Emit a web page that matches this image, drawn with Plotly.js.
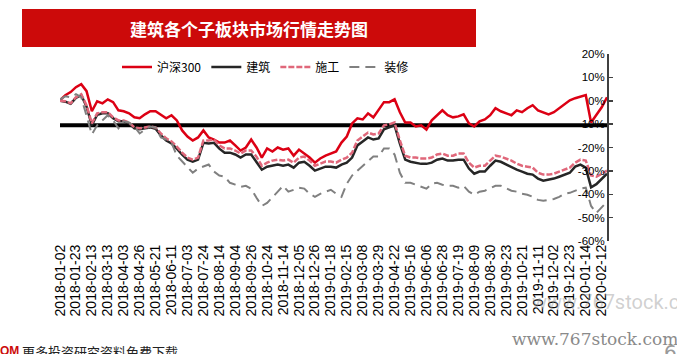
<!DOCTYPE html>
<html>
<head>
<meta charset="utf-8">
<script src="https://cdn.plot.ly/plotly-3.0.1.min.js"></script>
<style>
html,body{margin:0;padding:0;background:#fff;}
#chart{width:677px;height:354px;}
</style>
</head>
<body>
<div id="chart"></div>
<script>
// ---- data (cumulative % change since 2018-01-02, sampled every 5 trading days) ----
const STEP_DAYS = 5;
const tickLabels = ["2018-01-02","2018-01-23","2018-02-13","2018-03-13","2018-04-03","2018-04-26","2018-05-21","2018-06-11","2018-07-03","2018-07-24","2018-08-14","2018-09-04","2018-09-26","2018-10-24","2018-11-14","2018-12-05","2018-12-26","2019-01-18","2019-02-15","2019-03-08","2019-03-29","2019-04-22","2019-05-16","2019-06-06","2019-06-28","2019-07-19","2019-08-09","2019-08-30","2019-09-23","2019-10-21","2019-11-11","2019-12-02","2019-12-23","2020-01-14","2020-02-12"];
const TICK_EVERY = 15;

const hs300 = [0.2,2.4,3.7,5.8,7.1,4.1,-4.5,-0.2,-1.1,0.6,-0.6,-4.1,-4.5,-5.4,-7.1,-7.5,-5.8,-4.5,-4.5,-6.2,
-7.5,-6.2,-8.4,-12.7,-15.3,-17,-15.7,-12.7,-15.7,-16.6,-17.9,-17.9,-17,-19.1,-21.3,-20,-16.6,-20,-24.3,-20.4,
-21.7,-20,-20.9,-20.4,-23.5,-20.9,-22.6,-24.3,-26.5,-24.7,-23.5,-22.6,-21.7,-17.9,-15.3,-9.7,-7.5,-8,-5.4,-7.1,
-4.1,-0.6,-0.6,0.6,-4.9,-9.3,-9.3,-11,-10.5,-12.3,-8.4,-6.2,-4.1,-6.2,-7.1,-6.7,-5.8,-9.7,-11,-8.8,
-8,-6.2,-3.2,-4.5,-5.4,-6.2,-4.1,-4.9,-3.2,-1.9,-4.1,-4.9,-5.8,-4.9,-3.2,-1.5,0.2,1.1,1.9,2.4,
-9.3,-6.2,-2.8,1.5];

const jianzhu = [0,-0.4,-1.3,1.2,2.4,-2.5,-10.5,-6,-5.4,-5.4,-7.5,-8.8,-8.8,-9.7,-11.8,-12.2,-11.8,-11.4,-12,-14.8,
-17,-18.3,-20.5,-23.1,-25.2,-26.1,-25.2,-18,-18.3,-18,-20.5,-22.2,-22.2,-23,-24.3,-23,-23,-26,-29.5,-28.2,
-27.8,-27.3,-27.8,-27.3,-28.6,-26.5,-26.1,-27.8,-29.9,-29,-28.2,-28.2,-28.6,-27.3,-26.5,-24.3,-19.1,-17.4,-15.7,-16.6,
-16.1,-12.2,-11.4,-10.5,-18.3,-25.2,-26.1,-26.5,-27,-27,-26.5,-25.2,-24.7,-25.6,-25.6,-25.2,-25.2,-29,-31.2,-30.3,
-30.3,-27.8,-25.6,-26.1,-27.3,-28.2,-29.5,-30.3,-31.2,-31.6,-33.3,-34.2,-33.8,-33.3,-32.5,-31.6,-30.8,-28.2,-27.3,-28.6,
-37,-35.7,-33.3,-31.2];

const shigong = [0,-0.2,-1.1,1.5,2.8,-2,-9.7,-5.4,-4.9,-4.9,-7.1,-8.4,-8.4,-9.3,-11.4,-11.8,-11.4,-11,-11.4,-14,
-16.1,-17.4,-19.6,-22.2,-24.3,-25.2,-24.3,-17,-17,-16.6,-19.1,-20.4,-20.4,-21.3,-22.6,-21.3,-21.3,-23.9,-27.8,-26.5,
-25.6,-25.2,-25.6,-25.2,-26.5,-24.3,-23.9,-25.6,-27.8,-26.9,-26,-26,-26.5,-25.2,-24.3,-22.2,-17,-15.3,-13.6,-14.4,
-14,-10.5,-10.1,-9.3,-17,-23.5,-24.3,-24.3,-24.7,-24.7,-24.3,-23,-22.6,-23.5,-23.5,-22.6,-22.6,-26.5,-28.6,-27.8,
-27.8,-25.6,-23.5,-23.9,-24.7,-25.6,-26.9,-27.8,-28.2,-28.6,-30.8,-31.6,-31.6,-31.2,-30.3,-29.5,-28.6,-26.5,-25.2,-25.6,
-32,-32.5,-31.2,-29.9];

const zhuangxiu = [0.6,1.9,1.5,2.8,1.5,-6.7,-14.4,-10.5,-8.4,-6.2,-8.4,-11.8,-8.8,-9.3,-11,-14,-12.3,-11,-11.4,-15.7,
-16.6,-17.9,-23.5,-26,-28.6,-30.8,-29,-28.2,-27.3,-30.3,-32,-32.5,-35.1,-35.9,-36.8,-36.4,-37.6,-41.5,-45,-43.7,
-41.5,-38.9,-36.4,-38.9,-38.1,-37.2,-37.6,-39.8,-41.1,-39.8,-38.9,-38.1,-39.8,-41.1,-35.5,-32,-29.9,-27.8,-25.6,-23.9,
-23.9,-20.4,-20.4,-23,-30.8,-35.1,-35.1,-35.9,-36.8,-37.6,-35.5,-35.1,-35.9,-36.4,-36.4,-37.2,-36.4,-38.9,-40.2,-38.9,
-38.5,-37.6,-36.4,-36.4,-37.6,-38.5,-38.9,-39.8,-40.2,-41.1,-42.4,-42.8,-42.4,-42,-41.1,-39.8,-39.4,-38.5,-37.6,-37.2,
-45,-48,-45.4,-43.2];

const seriesNames = ["沪深300","建筑","施工","装修"];
const axisCross = -10.5;  // horizontal axis crossing value
const yTicks = [20,10,0,-10,-20,-30,-40,-50,-60];

// ---- layout helpers (pixel -> paper) ----
const W = 677, H = 354, ML = 60, MR = 70, MT = 54, MB = 113;
const PW = W - ML - MR, PH = H - MT - MB;
const px = x => (x - ML) / PW;
const py = y => (H - MB - y) / PH;

const xs = hs300.map((_, i) => i * STEP_DAYS);
const tickVals = tickLabels.map((_, i) => i * TICK_EVERY);

const traces = [
  {x: xs, y: hs300, name: seriesNames[0], type: "scatter", mode: "lines",
   line: {color: "#DC0014", width: 2.5}},
  {x: xs, y: jianzhu, name: seriesNames[1], type: "scatter", mode: "lines",
   line: {color: "#262626", width: 2.5}},
  {x: xs, y: shigong, name: seriesNames[2], type: "scatter", mode: "lines",
   line: {color: "#E0677A", width: 2.5, dash: "6px,2px"}},
  {x: xs, y: zhuangxiu, name: seriesNames[3], type: "scatter", mode: "lines",
   line: {color: "#808080", width: 2, dash: "10px,6px"}}
];

const layout = {
  width: W, height: H,
  margin: {l: ML, r: MR, t: MT, b: MB, pad: 0, autoexpand: false},
  paper_bgcolor: "#fff", plot_bgcolor: "#fff",
  font: {family: "Arial, 'Liberation Sans', sans-serif", color: "#000"},
  showlegend: true,
  legend: {orientation: "h", x: px(117), xanchor: "left", y: py(67), yanchor: "middle",
           font: {family: "'Noto Sans CJK SC', sans-serif", size: 12, color: "#000"},
           bgcolor: "rgba(0,0,0,0)", itemwidth: 30, tracegroupgap: 0},
  xaxis: {range: [0, (hs300.length - 1) * STEP_DAYS], tickmode: "array", tickvals: tickVals, ticktext: tickLabels,
          tickangle: -90, showgrid: false, zeroline: false, showline: false, ticks: "",
          automargin: false,
          tickfont: {family: "Arial, 'Liberation Sans', sans-serif", size: 14, color: "#000"}, fixedrange: true},
  yaxis: {range: [-60, 20], side: "left", anchor: "free", position: 1, automargin: false,
          tickmode: "array", tickvals: yTicks, ticktext: yTicks.map(v => v + "%"),
          showgrid: false, zeroline: false, showline: true, linecolor: "#404040", linewidth: 1.5,
          ticks: "inside", ticklen: 4, tickcolor: "#404040", tickwidth: 1.5,
          tickfont: {family: "Arial, 'Liberation Sans', sans-serif", size: 11.5, color: "#000"}, fixedrange: true},
  shapes: [
    {type: "line", xref: "paper", x0: 0, x1: 1, yref: "y", y0: axisCross, y1: axisCross,
     line: {color: "#000", width: 4}, layer: "below"},
    {type: "rect", xref: "paper", yref: "paper", x0: px(22), x1: px(476), y0: py(47), y1: py(9),
     fillcolor: "#CC0A0A", line: {width: 0}, layer: "below"}
  ],
  annotations: [
    {text: "<b>建筑各个子板块市场行情走势图</b>", xref: "paper", yref: "paper", x: px(249), y: py(28),
     xanchor: "center", yanchor: "middle", showarrow: false,
     font: {family: "'Noto Sans CJK SC', sans-serif", size: 17, color: "#fff"}},
    {text: "www.767stock.com", xref: "paper", yref: "paper", x: px(530), y: py(302),
     xanchor: "left", yanchor: "middle", showarrow: false,
     font: {family: "Roboto, 'DejaVu Sans', sans-serif", size: 20, color: "rgba(150,150,150,0.45)"}},
    {text: "www.767stock.com", xref: "paper", yref: "paper", x: px(510), y: py(339),
     xanchor: "left", yanchor: "middle", showarrow: false,
     font: {family: "'DejaVu Serif', serif", size: 17, color: "#8a8a8a"}},
    {text: "6", xref: "paper", yref: "paper", x: px(662), y: py(352),
     xanchor: "left", yanchor: "middle", showarrow: false,
     font: {family: "'DejaVu Sans', sans-serif", size: 20, color: "#999"}},
    {text: "<b>OM</b>", xref: "paper", yref: "paper", x: px(-2), y: py(351),
     xanchor: "left", yanchor: "middle", showarrow: false,
     font: {family: "Arial, sans-serif", size: 12, color: "#CC0A0A"}},
    {text: "更多投资研究资料免费下载", xref: "paper", yref: "paper", x: px(20), y: py(351),
     xanchor: "left", yanchor: "middle", showarrow: false,
     font: {family: "'Noto Sans CJK SC', sans-serif", size: 13, color: "#222"}}
  ]
};

Plotly.newPlot("chart", traces, layout, {staticPlot: true, displayModeBar: false});
</script>
</body>
</html>
